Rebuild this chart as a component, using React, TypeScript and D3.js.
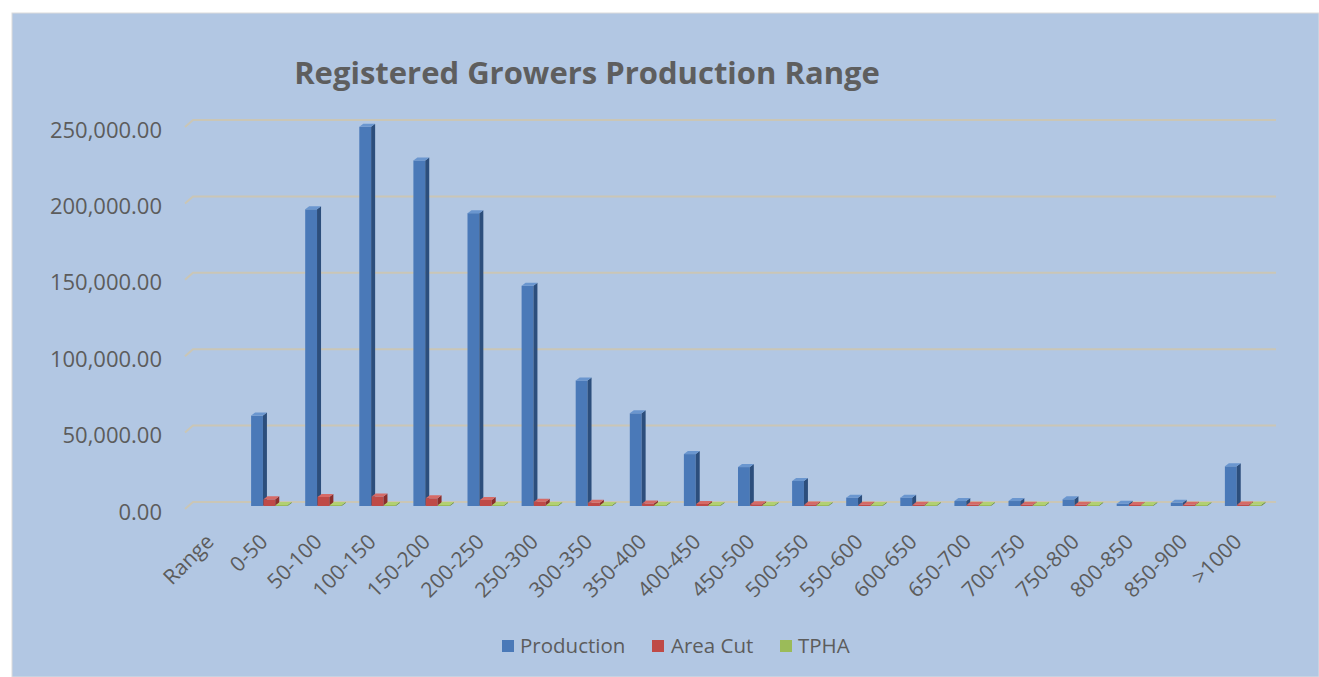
import React from "react";
import * as d3 from "d3";

const categories = [
  "Range", "0-50", "50-100", "100-150", "150-200", "200-250", "250-300", "300-350",
  "350-400", "400-450", "450-500", "500-550", "550-600", "600-650", "650-700",
  "700-750", "750-800", "800-850", "850-900", ">1000",
];
const seriesNames = ["Production", "Area Cut", "TPHA"];
const production = [
  null, 58500, 193500, 247500, 225500, 191000, 143500, 81500, 60000, 33300,
  24800, 15700, 4800, 4800, 2600, 2600, 3700, 850, 1500, 25300,
];
const areaCut = [
  null, 3700, 5300, 5600, 4400, 3300, 2200, 1400, 1000, 700,
  500, 400, 200, 200, 150, 150, 150, 80, 100, 400,
];
const tpha = [
  null, 17, 39, 47, 55, 64, 72, 63, 67, 56,
  62, 52, 32, 32, 26, 26, 31, 17, 19, 84,
];
const yTicks = [0, 50000, 100000, 150000, 200000, 250000];
const title = "Registered Growers Production Range";

const colors = [
  { front: "#4a79b8", side: "#2c4e7c", top: "#6a96cf" },
  { front: "#bf4a47", side: "#8a2e2c", top: "#d66a66" },
  { front: "#9bbb59", side: "#6c8a38", top: "#b2d072" },
];

export default function App() {
  const W = 1319, H = 677;
  const y = d3.scaleLinear().domain([0, 250000]).range([502, 120]);
  const x = d3.scaleBand<string>().domain(categories).range([185, 1267]).padding(0);
  const xs = d3.scaleBand<string>().domain(seriesNames).range([12, 49]).padding(0);
  const dx = 4, dy = 3;
  const yb = y(0) + dy + 1;
  const data = [production, areaCut, tpha];
  const fmt = d3.format(",.2f");
  const textCol = "#5c5c5c";
  const font = "'Open Sans', sans-serif";

  const bars: JSX.Element[] = [];
  categories.forEach((c, i) => {
    seriesNames.forEach((s, k) => {
      const v = data[k][i];
      if (v == null) return;
      const bx = (x(c) as number) + (xs(s) as number);
      const w = xs.bandwidth() - 0.5;
      const ft = y(v) + dy;
      const col = colors[k];
      bars.push(
        <g key={`${c}-${s}`}>
          <rect x={bx} y={ft} width={w} height={Math.max(0, yb - ft)} fill={col.front} />
          <polygon
            points={`${bx + w},${ft} ${bx + w + dx},${ft - dy} ${bx + w + dx},${yb - dy} ${bx + w},${yb}`}
            fill={col.side}
          />
          <polygon
            points={`${bx},${ft} ${bx + w},${ft} ${bx + w + dx},${ft - dy} ${bx + dx},${ft - dy}`}
            fill={col.top}
          />
        </g>
      );
    });
  });

  const legendItems = [
    { name: "Production", sx: 502, tx: 520 },
    { name: "Area Cut", sx: 652, tx: 671 },
    { name: "TPHA", sx: 780, tx: 798 },
  ];

  return (
    <svg width={W} height={H} style={{ position: "absolute", left: 0, top: 0 }} fontFamily={font}>
      <rect x={0} y={0} width={W} height={H} fill="#ffffff" />
      <rect x={12} y={13} width={W - 12} height={H - 13} fill="#b2c7e3" stroke="#dcdcdc" strokeWidth={1} />
      <text x={587} y={84} textAnchor="middle" fontSize={31} fontWeight="bold" fill="#5e5e5e">
        {title}
      </text>
      {yTicks.map((t) => (
        <g key={t}>
          <path
            d={`M185,${y(t) + 7} L193,${y(t)} L1276,${y(t)}`}
            fill="none"
            stroke="#cac6b6"
            strokeWidth={2}
          />
          <text x={162} y={y(t) + 17.5} textAnchor="end" fontSize={22} fill={textCol}>
            {fmt(t)}
          </text>
        </g>
      ))}
      {bars}
      {categories.map((c) => (
        <text
          key={c}
          transform={`translate(${(x(c) as number) + 30},${543}) rotate(-45)`}
          textAnchor="end"
          fontSize={21}
          fill={textCol}
        >
          {c}
        </text>
      ))}
      {legendItems.map((l, k) => (
        <g key={l.name}>
          <rect x={l.sx} y={640} width={12} height={12} fill={colors[k].front} />
          <text x={l.tx} y={653} fontSize={20.5} fill={textCol}>
            {l.name}
          </text>
        </g>
      ))}
    </svg>
  );
}
